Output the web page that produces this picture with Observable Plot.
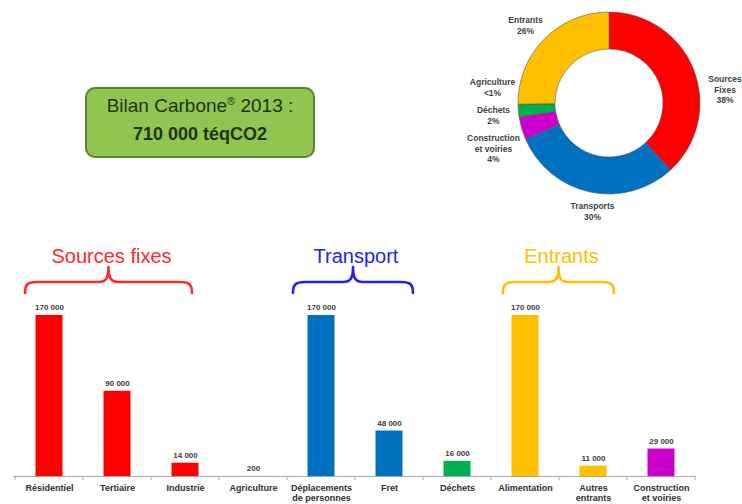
<!DOCTYPE html>
<html>
<head>
<meta charset="utf-8">
<script src="https://cdn.jsdelivr.net/npm/d3@7"></script>
<script src="https://cdn.jsdelivr.net/npm/@observablehq/plot@0.6"></script>
<style>
  html, body { margin: 0; padding: 0; background: #fff; }
  #page { position: relative; width: 742px; height: 504px; overflow: hidden; font-family: "Liberation Sans", Arial, sans-serif; }
  #donut { position: absolute; left: 440px; top: 0; }
  #bars { position: absolute; left: 0; top: 230px; }
  #box { position: absolute; left: 85px; top: 87px; width: 226px; height: 67px; border: 2px solid #58852c; border-radius: 10px; background: #8fc550; color: #1f3314; }
  #box .l1 { position: absolute; left: 0; right: 0; top: 6px; text-align: center; font-size: 19px; line-height: 22px; }
  #box .l1 sup { font-size: 11px; line-height: 0; vertical-align: 7px; }
  #box .l2 { position: absolute; left: 0; right: 0; top: 34px; text-align: center; font-size: 18px; line-height: 22px; font-weight: bold; }
</style>
</head>
<body>
<div id="page">
  <div id="box"><div class="l1">Bilan Carbone<sup>®</sup> 2013 :</div><div class="l2">710 000 téqCO2</div></div>
  <div id="donut"></div>
  <div id="bars"></div>
</div>
<script>
// ---- Data ----
const categories = ["Résidentiel", "Tertiaire", "Industrie", "Agriculture", "Déplacements\nde personnes", "Fret", "Déchets", "Alimentation", "Autres\nentrants", "Construction\net voiries"];
const values = [170000, 90000, 14000, 200, 170000, 48000, 16000, 170000, 11000, 29000];
const categoryGroup = ["Sources fixes", "Sources fixes", "Sources fixes", "Agriculture", "Transports", "Transports", "Déchets", "Entrants", "Entrants", "Construction et voiries"];

const groupNames = ["Sources fixes", "Transports", "Construction et voiries", "Déchets", "Agriculture", "Entrants"];
const groupColors = ["#ff0000", "#0070c0", "#cc00cc", "#00b050", "#92d050", "#ffc000"];
const donutLabels = ["Sources\nFixes", "Transports", "Construction\net voiries", "Déchets", "Agriculture", "Entrants"];
const donutPercents = ["38%", "30%", "4%", "2%", "<1%", "26%"];

const braceLabels = ["Sources fixes", "Transport", "Entrants"];
const braceFirst = ["Résidentiel", "Déplacements\nde personnes", "Alimentation"];
const braceLast = ["Industrie", "Fret", "Autres\nentrants"];
const braceColors = ["#ff2a2a", "#2222f0", "#ffc000"];

// ---- Derived tables ----
const rows = categories.map((c, i) => ({category: c, value: values[i], group: categoryGroup[i]}));
const groupTotals = groupNames.map(g => d3.sum(rows.filter(r => r.group === g), r => r.value));
const donutData = groupNames.map((g, i) => ({name: g, value: groupTotals[i], label: donutLabels[i] + "\n" + donutPercents[i]}));
const fmt = d3.formatLocale({thousands: " ", grouping: [3], decimal: ","}).format(",d");
const FONT = "'Liberation Sans', Arial, sans-serif";

// ---- Layout (pixels) ----
const donutCenter = [169, 103], rOuter = 91, rInner = 54;
const donutLabelPos = { // local coords (top of first line)
  "Sources fixes": [284.5, 74],
  "Transports": [152, 201],
  "Construction et voiries": [53, 133],
  "Déchets": [53, 105],
  "Agriculture": [52, 77],
  "Entrants": [85, 15]
};
const braceOffsets = [[-24, 7], [-28, 24], [-22, 21]];

// ---- Donut ----
const colorOf = d3.scaleOrdinal(groupNames, groupColors);
const donut = Plot.plot({
  width: 302, height: 230,
  margin: 0,
  style: {fontFamily: FONT, background: "transparent", overflow: "visible"},
  x: {type: "identity", axis: null},
  y: {type: "identity", axis: null},
  marks: [
    () => {
      const g = d3.create("svg:g").attr("transform", `translate(${donutCenter[0]},${donutCenter[1]})`);
      const arcs = d3.pie().sort(null).value(d => d.value)(donutData);
      const arc = d3.arc().innerRadius(rInner).outerRadius(rOuter);
      g.selectAll("path").data(arcs).join("path")
        .attr("d", arc)
        .attr("fill", d => colorOf(d.data.name))
        .attr("stroke", "#5a5a5a")
        .attr("stroke-width", 0.6);
      return g.node();
    },
    Plot.text(donutData, {
      x: d => donutLabelPos[d.name][0],
      y: d => donutLabelPos[d.name][1],
      text: "label",
      lineAnchor: "top",
      lineHeight: 1.25,
      fontSize: 8.5,
      fontWeight: "bold",
      fill: "#404040"
    })
  ]
});
document.getElementById("donut").appendChild(donut);

// ---- Bars ----
const bars = Plot.plot({
  width: 742, height: 274,
  marginLeft: 13, marginRight: 46, marginTop: 85, marginBottom: 28,
  style: {fontFamily: FONT, background: "transparent", overflow: "visible"},
  x: {type: "band", domain: categories, padding: 0, axis: null},
  y: {domain: [0, 170000], axis: null},
  color: {domain: groupNames, range: groupColors},
  marks: [
    Plot.barY(rows, {x: "category", y: "value", fill: "group", insetLeft: 20.5, insetRight: 20.5}),
    Plot.ruleY([0], {stroke: "#a8a8a8", strokeWidth: 1}),
    (index, scales) => {
      const x = scales.x, y = scales.y;
      const g = d3.create("svg:g");
      const y0 = y(0);
      const bw = x.bandwidth();
      const edges = categories.map(c => x(c)).concat([x(categories[categories.length - 1]) + bw]);
      g.selectAll("line").data(edges).join("line")
        .attr("x1", d => d).attr("x2", d => d)
        .attr("y1", y0).attr("y2", y0 + 4)
        .attr("stroke", "#a8a8a8");
      braceLabels.forEach((lab, i) => {
        const x1 = x(braceFirst[i]) + bw / 2 + braceOffsets[i][0];
        const x2 = x(braceLast[i]) + bw / 2 + braceOffsets[i][1];
        const cx = (x1 + x2) / 2;
        const yb = 63, yh = 52, yc = 37;
        const p = `M${x1},${yb} C${x1},${yh + 3} ${x1 + 2},${yh} ${x1 + 12},${yh} L${cx - 10},${yh} C${cx - 3},${yh} ${cx},${yh - 3} ${cx},${yc} C${cx},${yh - 3} ${cx + 3},${yh} ${cx + 10},${yh} L${x2 - 12},${yh} C${x2 - 2},${yh} ${x2},${yh + 3} ${x2},${yb}`;
        g.append("path").attr("d", p).attr("fill", "none").attr("stroke", braceColors[i])
          .attr("stroke-width", 2.6).attr("stroke-linecap", "round").attr("stroke-linejoin", "round");
        g.append("text").attr("x", cx + 3).attr("y", 26).attr("dy", "0.35em")
          .attr("text-anchor", "middle").attr("font-size", 20).attr("fill", braceColors[i])
          .text(lab);
      });
      return g.node();
    },
    Plot.text(rows, {x: "category", y: "value", text: d => fmt(d.value), dy: -8, fontSize: 8, fontWeight: "bold", fill: "#3c3c3c"}),
    Plot.text(rows, {x: "category", y: 0, text: "category", dy: 8, lineAnchor: "top", lineHeight: 1.08, fontSize: 9, fontWeight: "bold", fill: "#2e2e2e"})
  ]
});
document.getElementById("bars").appendChild(bars);
</script>
</body>
</html>
